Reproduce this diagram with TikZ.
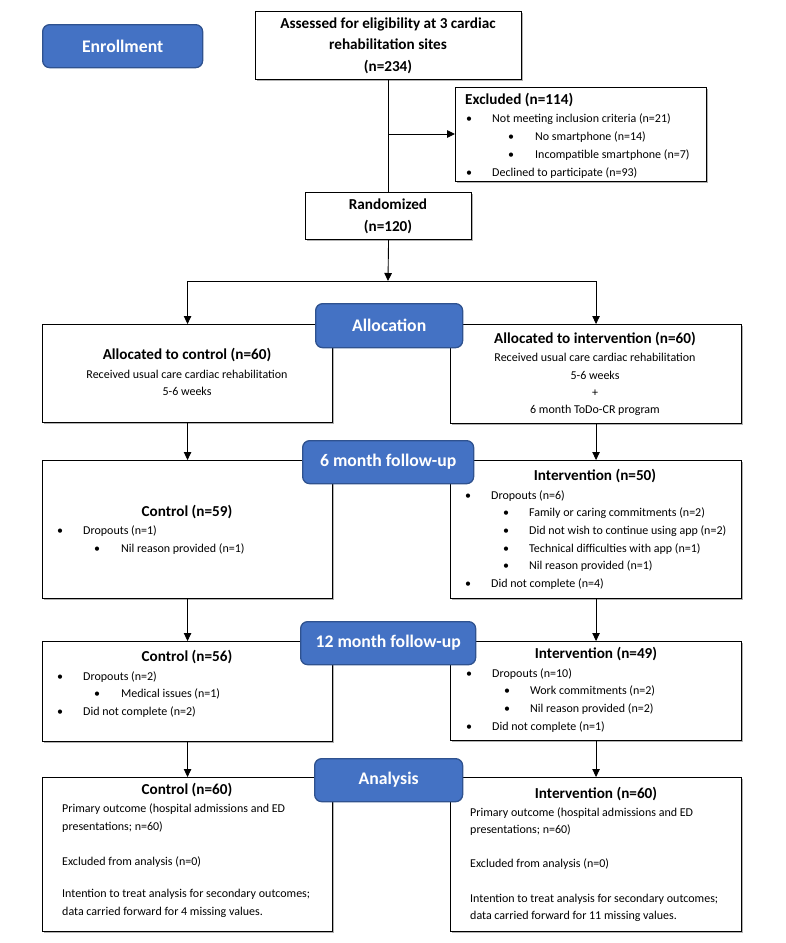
\documentclass[tikz,border=0pt]{standalone}
\usepackage{fontspec}
\setmainfont{Carlito}
\usetikzlibrary{arrows.meta,shadows}
\definecolor{stageblue}{HTML}{4472C4}
\definecolor{stageedge}{HTML}{2F528F}
\begin{document}
\begin{tikzpicture}[x=1pt,y=-1pt,
  wbox/.style={draw=black, line width=1.1pt, fill=white, inner sep=0, anchor=north west,
    drop shadow={shadow xshift=1.2pt, shadow yshift=-1.2pt, fill=black!30, opacity=1}},
  stage/.style={draw=stageedge, line width=1.3pt, fill=stageblue, rounded corners=7pt, inner sep=0,
    anchor=north west, text=white, font=\fontsize{17.7}{20}\selectfont\bfseries},
  conn/.style={line width=0.9pt, -{Triangle[length=8pt,width=7.5pt]}},
  line/.style={line width=0.9pt},
  tx/.style={inner sep=0, anchor=base west, yshift=-0.5pt, font=\fontsize{12}{14}\selectfont},
  tc/.style={inner sep=0, anchor=base, yshift=-0.5pt, font=\fontsize{12}{14}\selectfont},
  hd/.style={inner sep=0, anchor=base, yshift=-0.7pt, font=\fontsize{15.2}{17}\selectfont\bfseries},
  hdl/.style={inner sep=0, anchor=base west, yshift=-0.7pt, font=\fontsize{15.2}{17}\selectfont\bfseries},
  bul/.style={inner sep=0, anchor=base west, yshift=-0.5pt, font=\fontsize{12}{14}\selectfont}
]
\useasboundingbox (0,0) rectangle (786,943);

% ---------- white boxes ----------
\node[wbox, minimum width=266, minimum height=68] (assess) at (255,11) {};
\node[wbox, minimum width=251, minimum height=94] (excl) at (455,87) {};
\node[wbox, minimum width=166, minimum height=47] (rand) at (305,192) {};
\node[wbox, minimum width=290, minimum height=98] (ctlA) at (42,324) {};
\node[wbox, minimum width=291, minimum height=99] (intA) at (450,324) {};
\node[wbox, minimum width=290, minimum height=138] (ctlB) at (42,460) {};
\node[wbox, minimum width=291, minimum height=138] (intB) at (450,460) {};
\node[wbox, minimum width=290, minimum height=100] (ctlC) at (42,641) {};
\node[wbox, minimum width=291, minimum height=99] (intC) at (450,641) {};
\node[wbox, minimum width=290, minimum height=154] (ctlD) at (42,777) {};
\node[wbox, minimum width=291, minimum height=154] (intD) at (450,777) {};

% ---------- connectors ----------
\coordinate (jx) at (388,134);
\coordinate (js) at (388,281);
\draw[line] (assess.south) -- (rand.north);
\draw[conn] (jx) -- (jx -| excl.west);
\draw[conn] (rand.south) -- (js);
\draw[conn] (js) -| (ctlA.north);
\draw[conn] (js) -| (intA.north);
\draw[conn] (ctlA.south) -- (ctlB.north);
\draw[conn] (intA.south) -- (intB.north);
\draw[conn] (ctlB.south) -- (ctlC.north);
\draw[conn] (intB.south) -- (intC.north);
\draw[conn] (ctlC.south) -- (ctlD.north);
\draw[conn] (intC.south) -- (intD.north);

% ---------- stage labels ----------
\node[stage, minimum width=160, minimum height=43] (enrol) at (42,24) {Enrollment};
\node[stage, minimum width=147, minimum height=44] (alloc) at (315,303) {Allocation};
\node[stage, minimum width=171, minimum height=43] (fusix) at (302,440) {6 month follow-up};
\node[stage, minimum width=175, minimum height=43] (futwelve) at (300,621) {12 month follow-up};
\node[stage, minimum width=148, minimum height=43] (anal) at (314,758) {Analysis};

% ---------- Assessed ----------
\node[hd] (as1) at (388,28) {Assessed for eligibility at 3 cardiac};
\node[hd] (as2) at (388,49) {rehabilitation sites};
\node[hd] (as3) at (388,71) {(n=234)};

% ---------- Excluded ----------
\node[hdl] (ex0) at (465,104) {Excluded (n=114)};
\node[bul] (exb1) at (466,122) {•};
\node[tx] (ex1) at (492,122) {Not meeting inclusion criteria (n=21)};
\node[bul] (exb2) at (508,140) {•};
\node[tx] (ex2) at (535,140) {No smartphone (n=14)};
\node[bul] (exb3) at (508,158) {•};
\node[tx] (ex3) at (535,158) {Incompatible smartphone (n=7)};
\node[bul] (exb4) at (466,176) {•};
\node[tx] (ex4) at (492,176) {Declined to participate (n=93)};

% ---------- Randomized ----------
\node[hd] (ra1) at (388,209) {Randomized};
\node[hd] (ra2) at (388,231) {(n=120)};

% ---------- Allocation boxes ----------
\node[hd] (ca0) at (187,359) {Allocated to control (n=60)};
\node[tc] (ca1) at (187,378) {Received usual care cardiac rehabilitation};
\node[tc] (ca2) at (187,395) {5-6 weeks};

\node[hd] (ia0) at (595,343) {Allocated to intervention (n=60)};
\node[tc] (ia1) at (595,361) {Received usual care cardiac rehabilitation};
\node[tc] (ia2) at (595,379) {5-6 weeks};
\node[tc] (ia3) at (595,396) {+};
\node[tc] (ia4) at (595,413) {6 month ToDo-CR program};

% ---------- 6 month ----------
\node[hd] (cb0) at (187,516) {Control (n=59)};
\node[bul] (cbb1) at (57,534) {•};
\node[tx] (cb1) at (83,534) {Dropouts (n=1)};
\node[bul] (cbb2) at (94,552) {•};
\node[tx] (cb2) at (121,552) {Nil reason provided (n=1)};

\node[hd] (ib0) at (595,480) {Intervention (n=50)};
\node[bul] (ibb1) at (465,499) {•};
\node[tx] (ib1) at (491,499) {Dropouts (n=6)};
\node[bul] (ibb2) at (503,516) {•};
\node[tx] (ib2) at (529,516) {Family or caring commitments (n=2)};
\node[bul] (ibb3) at (503,534) {•};
\node[tx] (ib3) at (529,534) {Did not wish to continue using app (n=2)};
\node[bul] (ibb4) at (503,552) {•};
\node[tx] (ib4) at (529,552) {Technical difficulties with app (n=1)};
\node[bul] (ibb5) at (503,569) {•};
\node[tx] (ib5) at (529,569) {Nil reason provided (n=1)};
\node[bul] (ibb6) at (465,587) {•};
\node[tx] (ib6) at (491,587) {Did not complete (n=4)};

% ---------- 12 month ----------
\node[hd] (cc0) at (187,661) {Control (n=56)};
\node[bul] (ccb1) at (57,680) {•};
\node[tx] (cc1) at (83,680) {Dropouts (n=2)};
\node[bul] (ccb2) at (94,697) {•};
\node[tx] (cc2) at (121,697) {Medical issues (n=1)};
\node[bul] (ccb3) at (57,715) {•};
\node[tx] (cc3) at (83,715) {Did not complete (n=2)};

\node[hd] (ic0) at (596,658) {Intervention (n=49)};
\node[bul] (icb1) at (466,677) {•};
\node[tx] (ic1) at (492,677) {Dropouts (n=10)};
\node[bul] (icb2) at (504,694) {•};
\node[tx] (ic2) at (530,694) {Work commitments (n=2)};
\node[bul] (icb3) at (504,712) {•};
\node[tx] (ic3) at (530,712) {Nil reason provided (n=2)};
\node[bul] (icb4) at (466,730) {•};
\node[tx] (ic4) at (492,730) {Did not complete (n=1)};

% ---------- Analysis ----------
\node[hd] (cd0) at (187,794) {Control (n=60)};
\node[tx] (cd1) at (62,812) {Primary outcome (hospital admissions and ED};
\node[tx] (cd2) at (62,830) {presentations; n=60)};
\node[tx] (cd3) at (62,865) {Excluded from analysis (n=0)};
\node[tx] (cd4) at (62,897) {Intention to treat analysis for secondary outcomes;};
\node[tx] (cd5) at (62,915) {data carried forward for 4 missing values.};

\node[hd] (id0) at (596,798) {Intervention (n=60)};
\node[tx] (id1) at (470,816) {Primary outcome (hospital admissions and ED};
\node[tx] (id2) at (470,833) {presentations; n=60)};
\node[tx] (id3) at (470,867) {Excluded from analysis (n=0)};
\node[tx] (id4) at (470,902) {Intention to treat analysis for secondary outcomes;};
\node[tx] (id5) at (470,919) {data carried forward for 11 missing values.};
\end{tikzpicture}
\end{document}
